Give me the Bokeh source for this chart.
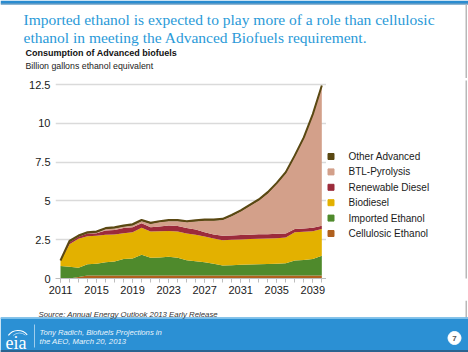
from bokeh.plotting import figure
from bokeh.layouts import column, row
from bokeh.models import (FixedTicker, NumeralTickFormatter, BoxAnnotation, Range1d,
                          ColumnDataSource)
from bokeh.core.properties import value
from bokeh.embed import file_html
from bokeh.resources import INLINE

years = list(range(2011, 2041))
cellulosic = [0, 0, 0.1] + [0.2] * 27
imported = [0.8, 0.75, 0.6, 0.72, 0.75, 0.85, 0.9, 1.05, 1.09, 1.33,
            1.14, 1.16, 1.2, 1.14, 0.98, 0.92, 0.85, 0.75, 0.64, 0.66,
            0.68, 0.7, 0.72, 0.73, 0.75, 0.79, 0.96, 1.0, 1.05, 1.26]
biodiesel = [0.33, 1.46, 1.87, 1.81, 1.8, 1.77, 1.74, 1.67, 1.7, 1.74,
             1.69, 1.69, 1.67, 1.69, 1.72, 1.7, 1.66, 1.63, 1.63, 1.64,
             1.64, 1.64, 1.65, 1.65, 1.65, 1.66, 1.83, 1.81, 1.8, 1.74]
renewable = [0.02, 0.13, 0.12, 0.17, 0.17, 0.28, 0.28, 0.33, 0.32, 0.3,
             0.28, 0.3, 0.35, 0.35, 0.35, 0.34, 0.28, 0.26, 0.28, 0.28,
             0.28, 0.28, 0.28, 0.28, 0.28, 0.25, 0.2, 0.22, 0.22, 0.2]
btl = [0, 0, 0, 0.01, 0.03, 0.07, 0.1, 0.09, 0.11, 0.13,
       0.21, 0.27, 0.27, 0.31, 0.37, 0.51, 0.73, 0.88, 1.02, 1.24,
       1.52, 1.85, 2.17, 2.63, 3.21, 3.88, 4.67, 5.79, 7.25, 8.97]
other = [0.01] + [0.08] * 29

series = ["Cellulosic Ethanol", "Imported Ethanol", "Biodiesel",
          "Renewable Diesel", "BTL-Pyrolysis", "Other Advanced"]
colors = ["#b0601e", "#4f8a2c", "#e3b100", "#9c2b3b", "#d3a08a", "#5a4812"]
x_ticks = list(range(2011, 2040, 4))
y_ticks = [0, 2.5, 5, 7.5, 10, 12.5]

title_lines = ["Imported ethanol is expected to play more of a role than cellulosic",
               "ethanol in meeting the Advanced Biofuels requirement."]
subtitle = "Consumption of Advanced biofuels"
units = "Billion gallons ethanol equivalent"
source_text = "Source:  Annual Energy Outlook 2013 Early Release"
footer_lines = ["Tony Radich, Biofuels Projections in", "the AEO, March 20, 2013"]

keys = ["cel", "imp", "bio", "ren", "btl", "oth"]
data = dict(year=years, cel=cellulosic, imp=imported, bio=biodiesel,
            ren=renewable, btl=btl, oth=other)
data["total"] = [sum(v) for v in zip(cellulosic, imported, biodiesel, renewable, btl, other)]
src = ColumnDataSource(data)

W = 468


def canvas(width, height, y0, top=0, bottom=0):
    """A plain figure in page pixels (y down); frame from y0+top to y0+height-bottom."""
    f = figure(width=width, height=height, output_backend="svg", toolbar_location=None,
               x_range=Range1d(0, width), y_range=Range1d(y0 + height - bottom, y0 + top),
               x_axis_location=None, y_axis_location=None,
               min_border=0, min_border_left=0, min_border_right=0,
               min_border_top=top, min_border_bottom=bottom)
    f.outline_line_color = None
    f.grid.visible = False
    f.background_fill_color = "white"
    f.border_fill_color = "white"
    return f


def box(f, x0, x1, y0, y1, color, alpha=1.0):
    f.add_layout(BoxAnnotation(left=x0, right=x1, top=y0, bottom=y1,
                               fill_color=color, fill_alpha=alpha, line_color=None,
                               level="underlay"))


def txt(f, text, X, Y, size, color, font="Liberation Sans", style="normal",
        align="left", baseline="alphabetic"):
    f.text(x=[X], y=[Y], text=[text], text_font=value(font),
           text_font_size=value(size), text_color=color, text_font_style=style,
           text_align=align, text_baseline=baseline)


# ---------------- header ----------------
hdr = canvas(W, 78, 0)
box(hdr, 0, W, 0, 3, "#2a8cd0")
box(hdr, 0, W, 3, 4, "#1f6ea8")
box(hdr, 465, 466.5, 4, 78, "#b8b8b8")
txt(hdr, title_lines[0], 23, 18.5, "15.5px", "#2a9ad8", font="Liberation Serif")
txt(hdr, title_lines[1], 23, 36.5, "15.5px", "#2a9ad8", font="Liberation Serif")
txt(hdr, subtitle, 25, 52.5, "9px", "#111111", style="bold")
txt(hdr, units, 25, 65, "8.8px", "#222222")

# ---------------- chart ----------------
p = figure(width=326, height=222, output_backend="svg", toolbar_location=None,
           x_range=Range1d(2010.445, 2040.52), y_range=Range1d(0, 12.77),
           min_border_left=55, min_border_right=0, min_border_top=2,
           min_border_bottom=22)
p.outline_line_color = None
p.background_fill_color = "white"
p.border_fill_color = "white"

rs = p.varea_stack(stackers=keys, x="year", color=colors, source=src)
p.line(x="year", y="total", source=src, color="#5a4812", line_width=2)

p.xgrid.grid_line_color = None
p.ygrid.grid_line_color = "#dadada"
p.ygrid.grid_line_width = 1.5
p.ygrid.ticker = FixedTicker(ticks=y_ticks)

xa = p.xaxis[0]
xa.ticker = FixedTicker(ticks=x_ticks, minor_ticks=years)
xa.axis_line_color = "#bdbdbd"
xa.major_tick_line_color = "#bdbdbd"
xa.minor_tick_line_color = "#bdbdbd"
xa.major_tick_out = 4
xa.major_tick_in = 0
xa.minor_tick_out = 4
xa.minor_tick_in = 0
xa.major_label_standoff = 3
xa.major_label_text_font = "Liberation Sans"
xa.major_label_text_font_size = "11px"
xa.major_label_text_color = "#1a1a1a"

ya = p.yaxis[0]
ya.ticker = FixedTicker(ticks=y_ticks)
ya.formatter = NumeralTickFormatter(format="0.[0]")
ya.axis_line_color = None
ya.major_tick_line_color = None
ya.minor_tick_line_color = None
ya.major_tick_out = 0
ya.major_label_standoff = 5
ya.major_label_text_font = "Liberation Sans"
ya.major_label_text_font_size = "11px"
ya.major_label_text_color = "#1a1a1a"

# ---------------- legend column (frame aligned with the chart frame) ----------------
lg = canvas(W - 326, 222, 78, top=2, bottom=22)
lg.x_range = Range1d(326, W)
box(lg, 465, 466.5, 78, 300, "#b8b8b8")
leg_names = series[::-1]
leg_colors = colors[::-1]
leg_y = [156 + 15.4 * i for i in range(len(leg_names))]
lg.scatter(x=[330.5] * len(leg_names), y=leg_y, marker="square", size=6,
           color=leg_colors)
lg.text(x=[348] * len(leg_names), y=leg_y, text=leg_names,
        text_font=value("Liberation Sans"), text_font_size=value("10px"),
        text_color="#1a1a1a", text_baseline="middle", text_align="left")

# ---------------- footer ----------------
ft = canvas(W, 52, 300)
box(ft, 465, 466.5, 300, 317, "#b8b8b8")
box(ft, 0, W, 317, 352, "#2b90d4")
box(ft, 0, W, 317, 318.5, "#7cc0ea")
box(ft, 0, W, 349.5, 352, "#2a6390")
box(ft, 33.5, 34.5, 324, 347, "#ffffff", 0.55)
txt(ft, source_text, 38, 314, "7.8px", "#333333", style="italic")
txt(ft, footer_lines[0], 39, 331.5, "7.7px", "#eaf4fb", style="italic", baseline="middle")
txt(ft, footer_lines[1], 39, 340.5, "7.7px", "#eaf4fb", style="italic", baseline="middle")
ft.arc(x=[17.5], y=[342], radius=12, radius_units="screen", start_angle=0.7,
       end_angle=2.5, direction="anticlock", line_color="white", line_width=1.2)
ft.arc(x=[19], y=[342], radius=9.5, radius_units="screen", start_angle=0.9,
       end_angle=2.3, direction="anticlock", line_color="white", line_width=0.8,
       line_alpha=0.7)
txt(ft, "eia", 5, 342, "18px", "#ffffff", font="Liberation Serif")
ft.scatter(x=[454], y=[337.5], size=13, marker="circle", color="white")
txt(ft, "7", 454, 337.5, "8px", "#555555", style="bold", align="center", baseline="middle")

layout = column(hdr, row(p, lg, spacing=0), ft, spacing=0)

open("out.html", "w").write(file_html(layout, INLINE))
